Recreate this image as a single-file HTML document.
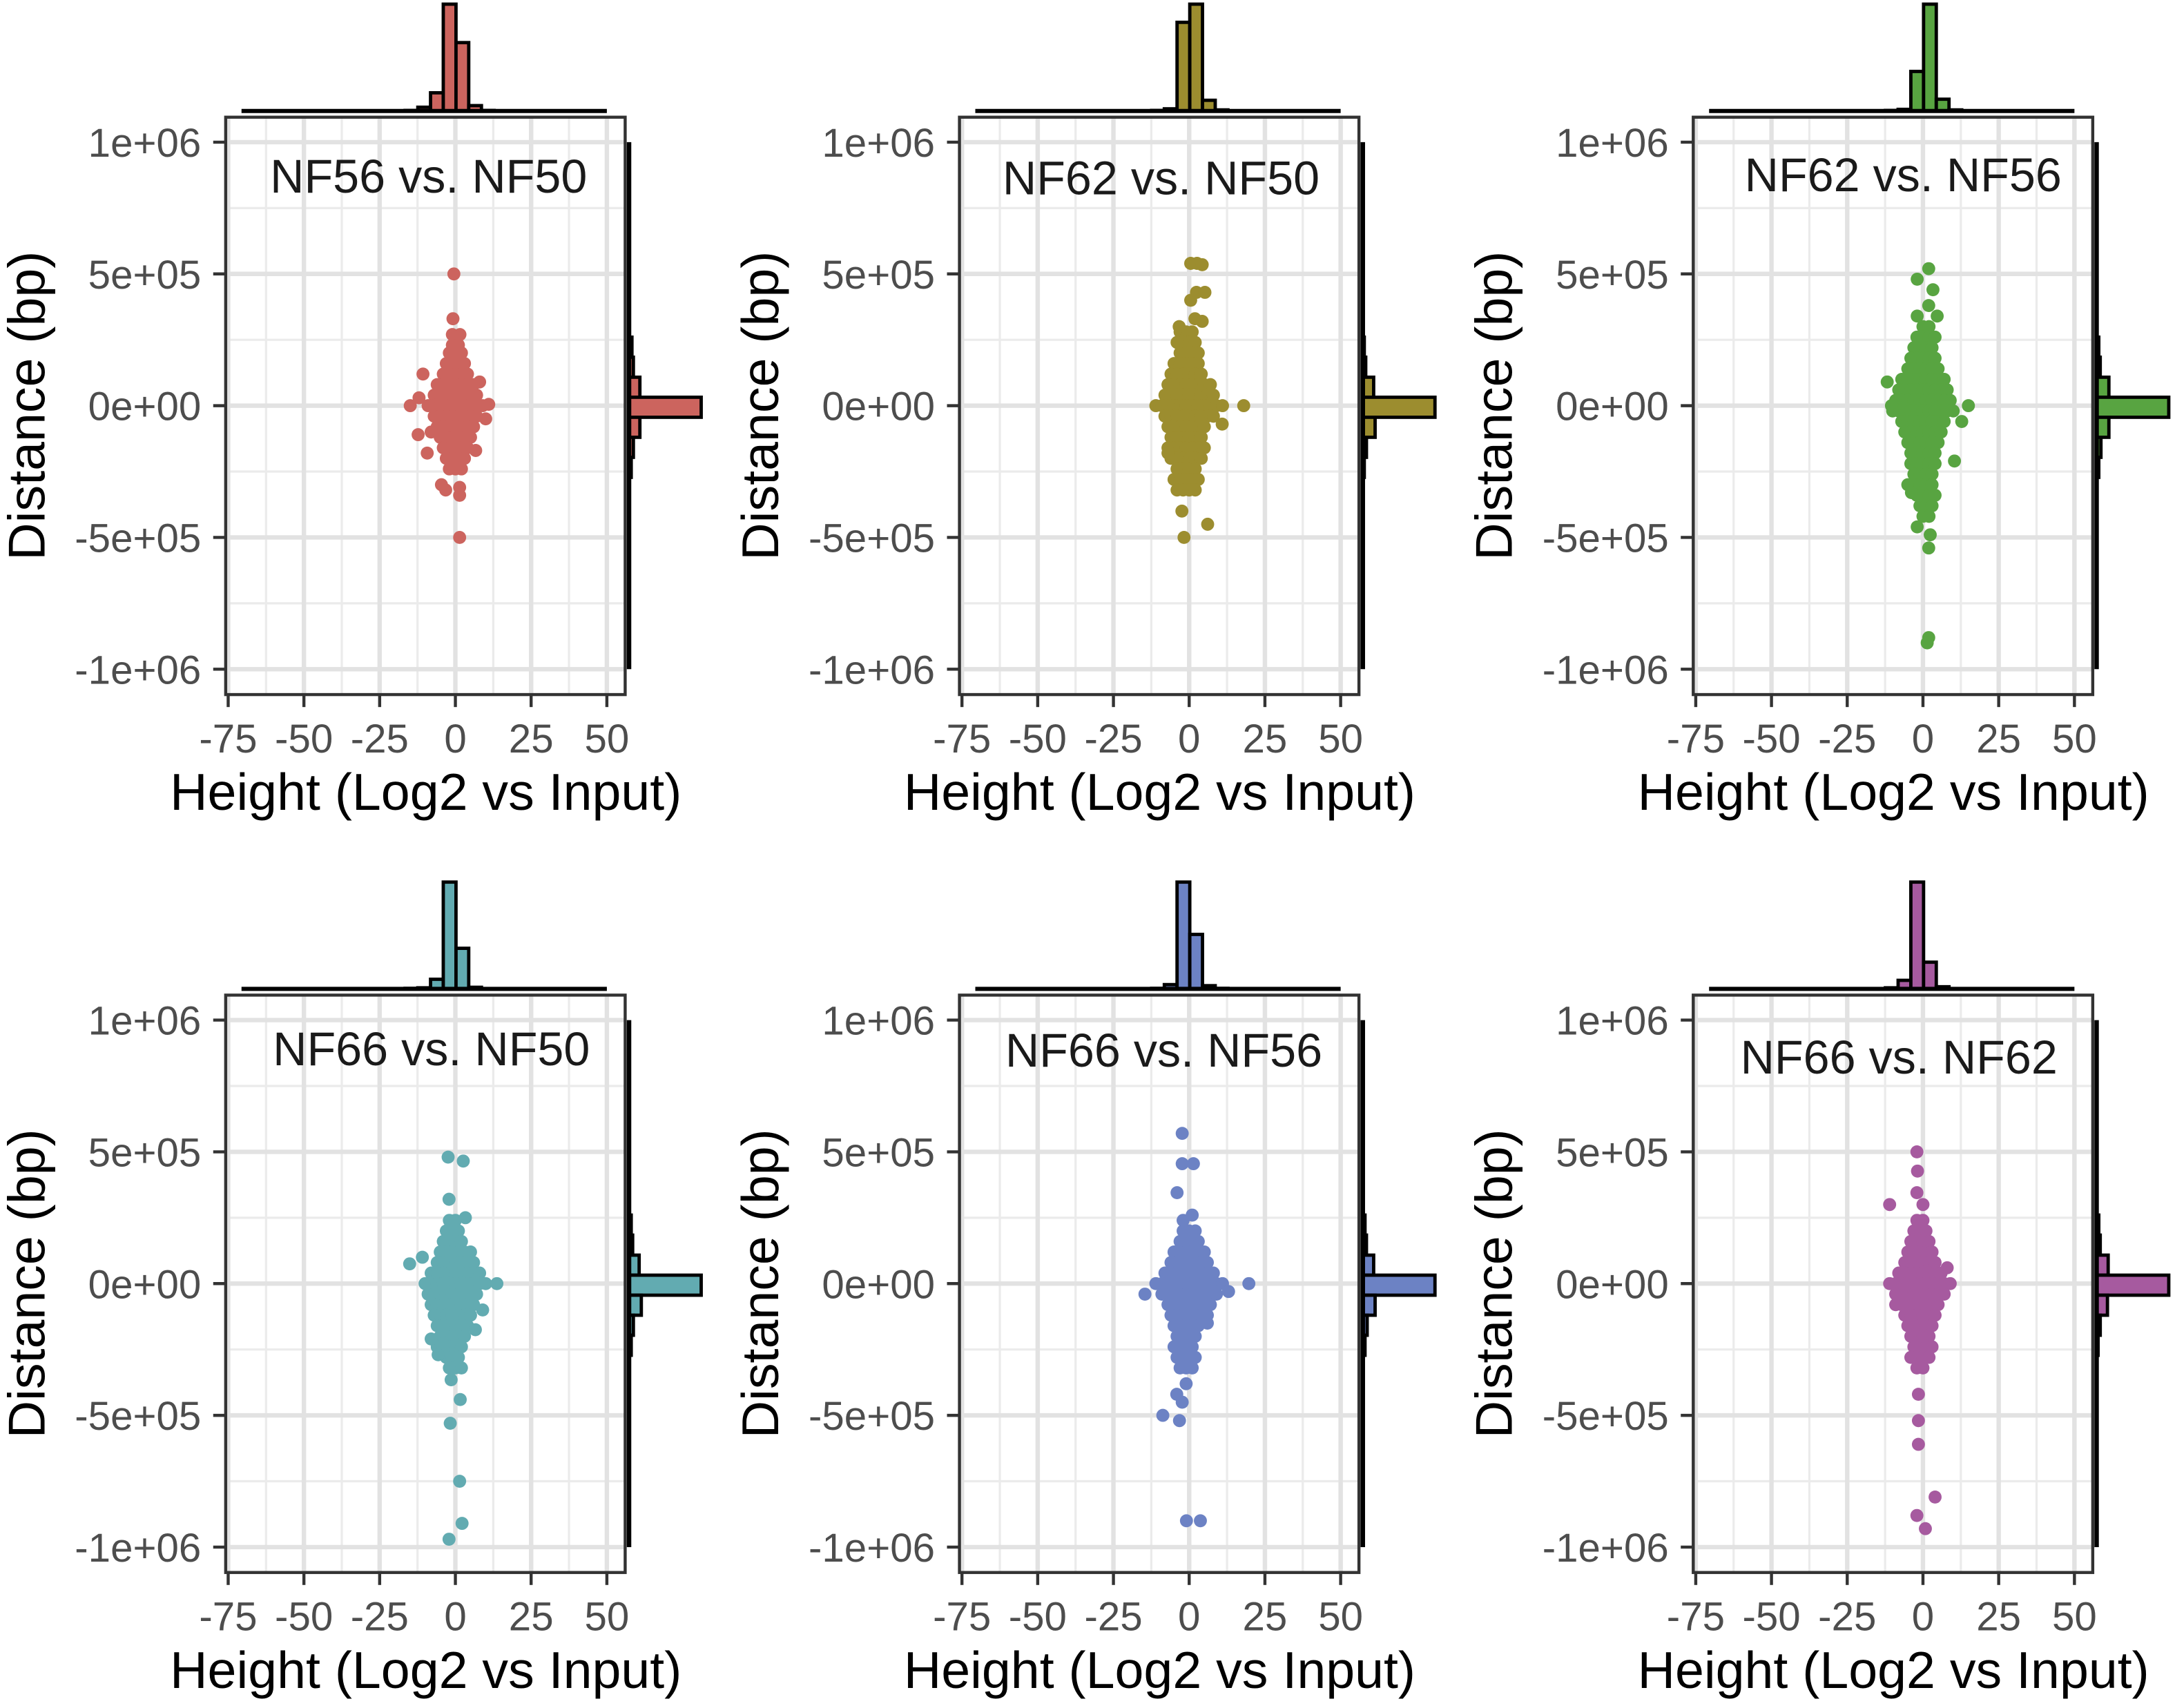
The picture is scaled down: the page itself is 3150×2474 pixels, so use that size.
<!DOCTYPE html>
<html><head><meta charset="utf-8"><title>Peak distance vs height</title>
<style>
html,body{margin:0;padding:0;background:#fff;}
svg{display:block;font-family:"Liberation Sans",Arial,sans-serif;}
</style></head>
<body>
<svg id="chart" xmlns="http://www.w3.org/2000/svg" width="3150" height="2474" viewBox="0 0 1568 1231.5" preserveAspectRatio="none">
<rect x="0" y="0" width="1568" height="1231.5" fill="#ffffff"/>
</svg>
<script>
// ---- data (x: log2 height, y: distance in units of 1e5 bp) ----
const panelTitles = ["NF56 vs. NF50","NF62 vs. NF50","NF62 vs. NF56","NF66 vs. NF50","NF66 vs. NF56","NF66 vs. NF62"];
const panelColors = ["#cc645e","#9c8d2f","#58a441","#62abb1","#6c82c4","#a65a9f"];
const xTicks = [-75,-50,-25,0,25,50];
const xTickLabels = ["-75","-50","-25","0","25","50"];
const yTicks = [10,5,0,-5,-10];
const yTickLabels = ["1e+06","5e+05","0e+00","-5e+05","-1e+06"];
const topBinEdges = [-16.6,-12.4,-8.2,-4.0,0.2,4.4,8.6,12.8,17.0];
const topCounts1 = [0.5,3.5,17,100,64,5,0.5,0];
const topCounts2 = [0,0.5,2,83,100,10,1,0];
const topCounts3 = [0,0.5,1.5,37,100,11,1,0];
const topCounts4 = [0.5,1,9,100,38,1.5,0,0];
const topCounts5 = [0,0.5,4,100,51,3,0.5,0];
const topCounts6 = [0,1,8,100,25,2,0,0];
const rightBinLevels = [3,2,1,0,-1,-2,-3];
const rightCounts1 = [4,6,15,100,15,6,3];
const rightCounts2 = [2,4,15,100,17,5,2];
const rightCounts3 = [3,5,17,100,17,6,3];
const rightCounts4 = [3,5,14,100,17,6,3];
const rightCounts5 = [3,5,15,100,17,6,3];
const rightCounts6 = [3,5,16,100,15,5,2];

const points1 = [[-2,2],[0,2],[2,2],[-3,1.6],[-1,1.6],[1,1.6],[3,1.6],[-4,1.2],[-2,1.2],[0,1.2],[2,1.2],[4,1.2],
[-6,0.8],[-4,0.8],[-2,0.8],[0,0.8],[2,0.8],[4,0.8],[6,0.8],[-7,0.4],[-5,0.4],[-3,0.4],[-1,0.4],[1,0.4],[3,0.4],[5,0.4],[7,0.4],
[-9,0],[-7,0],[-5,0],[-3,0],[-1,0],[1,0],[3,0],[5,0],[7,0],[9,0],[-7,-0.4],[-5,-0.4],[-3,-0.4],[-1,-0.4],[1,-0.4],[3,-0.4],[5,-0.4],[7,-0.4],
[-6,-0.8],[-4,-0.8],[-2,-0.8],[0,-0.8],[2,-0.8],[4,-0.8],[6,-0.8],[-5,-1.2],[-3,-1.2],[-1,-1.2],[1,-1.2],[3,-1.2],[5,-1.2],
[-4,-1.6],[-2,-1.6],[0,-1.6],[2,-1.6],[4,-1.6],[-3,-2],[-1,-2],[1,-2],[3,-2],[-2,-2.4],[0,-2.4],[2,-2.4],
[-0.5,5.0],[-0.8,3.3],[-1,2.7],[1.5,2.7],[-1,2.3],[1,2.3],[-10.7,1.2],[-14.9,0],[-12.3,-1.1],[-9.3,-1.8],[6.7,-1.7],[11,0.05],
[-4.6,-3.0],[-3.2,-3.2],[1.4,-3.1],[1.4,-3.4],[1.4,-5.0],[-12,0.3],[10,-0.5],[-8,-1.0],[8,0.9]];
const points2 = [[-3,2.8],[-1,2.8],[1,2.8],[-4,2.4],[-2,2.4],[0,2.4],[2,2.4],[-3,2],[-1,2],[1,2],[3,2],
[-5,1.6],[-3,1.6],[-1,1.6],[1,1.6],[3,1.6],[-6,1.2],[-4,1.2],[-2,1.2],[0,1.2],[2,1.2],[4,1.2],
[-7,0.8],[-5,0.8],[-3,0.8],[-1,0.8],[1,0.8],[3,0.8],[5,0.8],[7,0.8],[-8,0.4],[-6,0.4],[-4,0.4],[-2,0.4],[0,0.4],[2,0.4],[4,0.4],[6,0.4],[8,0.4],
[-11,0],[-9,0],[-7,0],[-5,0],[-3,0],[-1,0],[1,0],[3,0],[5,0],[7,0],[9,0],[11,0],
[-8,-0.4],[-6,-0.4],[-4,-0.4],[-2,-0.4],[0,-0.4],[2,-0.4],[4,-0.4],[6,-0.4],[8,-0.4],
[-7,-0.8],[-5,-0.8],[-3,-0.8],[-1,-0.8],[1,-0.8],[3,-0.8],[5,-0.8],[-6,-1.2],[-4,-1.2],[-2,-1.2],[0,-1.2],[2,-1.2],[4,-1.2],
[-7,-1.6],[-5,-1.6],[-3,-1.6],[-1,-1.6],[1,-1.6],[3,-1.6],[5,-1.6],[-6,-2],[-4,-2],[-2,-2],[0,-2],[2,-2],[4,-2],
[-4,-2.4],[-2,-2.4],[0,-2.4],[2,-2.4],[-5,-2.8],[-3,-2.8],[-1,-2.8],[1,-2.8],[3,-2.8],[-4,-3.2],[-2,-3.2],[0,-3.2],[2,-3.2],
[0.5,5.4],[2.6,5.4],[4.3,5.35],[0.5,4.0],[2.4,4.3],[5.2,4.3],[1.9,3.3],[4.3,3.2],[18,0],[10.9,-0.7],[-2.4,-4.0],[6.1,-4.5],[-1.7,-5.0],[-7,-1.8],[-3.3,3.0]];
const points3 = [[0,3],[2,3],[-2,2.6],[0,2.6],[2,2.6],[4,2.6],[-3,2.2],[-1,2.2],[1,2.2],[3,2.2],[-4,1.8],[-2,1.8],[0,1.8],[2,1.8],[4,1.8],
[-5,1.4],[-3,1.4],[-1,1.4],[1,1.4],[3,1.4],[5,1.4],[-7,1],[-5,1],[-3,1],[-1,1],[1,1],[3,1],[5,1],[7,1],
[-8,0.6],[-6,0.6],[-4,0.6],[-2,0.6],[0,0.6],[2,0.6],[4,0.6],[6,0.6],[8,0.6],[-9,0.2],[-7,0.2],[-5,0.2],[-3,0.2],[-1,0.2],[1,0.2],[3,0.2],[5,0.2],[7,0.2],[9,0.2],
[-10,-0.2],[-8,-0.2],[-6,-0.2],[-4,-0.2],[-2,-0.2],[0,-0.2],[2,-0.2],[4,-0.2],[6,-0.2],[8,-0.2],[10,-0.2],
[-7,-0.6],[-5,-0.6],[-3,-0.6],[-1,-0.6],[1,-0.6],[3,-0.6],[5,-0.6],[7,-0.6],[-6,-1],[-4,-1],[-2,-1],[0,-1],[2,-1],[4,-1],[6,-1],
[-5,-1.4],[-3,-1.4],[-1,-1.4],[1,-1.4],[3,-1.4],[5,-1.4],[-4,-1.8],[-2,-1.8],[0,-1.8],[2,-1.8],[4,-1.8],[-4,-2.2],[-2,-2.2],[0,-2.2],[2,-2.2],[4,-2.2],
[-3,-2.6],[-1,-2.6],[1,-2.6],[3,-2.6],[-5,-3],[-3,-3],[-1,-3],[1,-3],[3,-3],[-2,-3.4],[0,-3.4],[2,-3.4],[4,-3.4],[-1,-3.8],[1,-3.8],[3,-3.8],[0,-4.2],[2,-4.2],
[1.9,5.2],[-1.9,4.8],[3.3,4.4],[1.9,3.8],[-1.9,3.4],[4.7,3.4],[-11.8,0.9],[-10.4,0],[15,0],[12.8,-0.6],[10.4,-2.1],[-3.8,-3.3],[-1.9,-4.6],[2.4,-4.9],[1.9,-5.4],[1.9,-8.8],[1.4,-9.0]];
const points4 = [[-2,2.4],[0,2.4],[-3,2],[-1,2],[1,2],[-4,1.6],[-2,1.6],[0,1.6],[2,1.6],[-5,1.2],[-3,1.2],[-1,1.2],[1,1.2],[3,1.2],[5,1.2],
[-6,0.8],[-4,0.8],[-2,0.8],[0,0.8],[2,0.8],[4,0.8],[6,0.8],[-8,0.4],[-6,0.4],[-4,0.4],[-2,0.4],[0,0.4],[2,0.4],[4,0.4],[6,0.4],[8,0.4],
[-10,0],[-8,0],[-6,0],[-4,0],[-2,0],[0,0],[2,0],[4,0],[6,0],[8,0],[10,0],
[-9,-0.4],[-7,-0.4],[-5,-0.4],[-3,-0.4],[-1,-0.4],[1,-0.4],[3,-0.4],[5,-0.4],[7,-0.4],[-8,-0.8],[-6,-0.8],[-4,-0.8],[-2,-0.8],[0,-0.8],[2,-0.8],[4,-0.8],[6,-0.8],
[-7,-1.2],[-5,-1.2],[-3,-1.2],[-1,-1.2],[1,-1.2],[3,-1.2],[5,-1.2],[-6,-1.6],[-4,-1.6],[-2,-1.6],[0,-1.6],[2,-1.6],[4,-1.6],
[-5,-2],[-3,-2],[-1,-2],[1,-2],[3,-2],[-6,-2.4],[-4,-2.4],[-2,-2.4],[0,-2.4],[2,-2.4],[-3,-2.8],[-1,-2.8],[1,-2.8],[-2,-3.2],[0,-3.2],[2,-3.2],
[-2.4,4.8],[2.6,4.65],[-2.1,3.2],[3.3,2.5],[-15.1,0.75],[-10.9,1.0],[13.7,0],[9,-1],[6.6,-1.75],[-8,-2.1],[-5.7,-2.7],[-1.4,-3.65],[1.6,-4.4],[-1.7,-5.3],[1.4,-7.5],[2.2,-9.1],[-2.1,-9.7]];
const points5 = [[-2,2],[0,2],[2,2],[-3,1.6],[-1,1.6],[1,1.6],[3,1.6],[-5,1.2],[-3,1.2],[-1,1.2],[1,1.2],[3,1.2],[5,1.2],
[-6,0.8],[-4,0.8],[-2,0.8],[0,0.8],[2,0.8],[4,0.8],[6,0.8],[-8,0.4],[-6,0.4],[-4,0.4],[-2,0.4],[0,0.4],[2,0.4],[4,0.4],[6,0.4],[8,0.4],
[-11,0],[-9,0],[-7,0],[-5,0],[-3,0],[-1,0],[1,0],[3,0],[5,0],[7,0],[9,0],[11,0],
[-9,-0.4],[-7,-0.4],[-5,-0.4],[-3,-0.4],[-1,-0.4],[1,-0.4],[3,-0.4],[5,-0.4],[7,-0.4],[9,-0.4],
[-7,-0.8],[-5,-0.8],[-3,-0.8],[-1,-0.8],[1,-0.8],[3,-0.8],[5,-0.8],[7,-0.8],[-6,-1.2],[-4,-1.2],[-2,-1.2],[0,-1.2],[2,-1.2],[4,-1.2],[6,-1.2],
[-5,-1.6],[-3,-1.6],[-1,-1.6],[1,-1.6],[3,-1.6],[-4,-2],[-2,-2],[0,-2],[2,-2],[-5,-2.4],[-3,-2.4],[-1,-2.4],[1,-2.4],
[-4,-2.8],[-2,-2.8],[0,-2.8],[2,-2.8],[-3,-3.2],[-1,-3.2],[1,-3.2],
[-2.3,5.7],[-2.3,4.55],[1.4,4.55],[-4,3.45],[-2,2.4],[1,2.6],[19.7,0],[-14.6,-0.4],[-8.7,-5.0],[-3.2,-5.2],[-2.3,-4.5],[-4.1,-4.2],[-0.9,-9.0],[3.7,-9.0],[6,-1.5],[-1,-3.8],[13,-0.3]];
const points6 = [[-2,2.4],[0,2.4],[-3,2],[-1,2],[1,2],[-4,1.6],[-2,1.6],[0,1.6],[2,1.6],[-5,1.2],[-3,1.2],[-1,1.2],[1,1.2],[3,1.2],
[-6,0.8],[-4,0.8],[-2,0.8],[0,0.8],[2,0.8],[4,0.8],[-8,0.4],[-6,0.4],[-4,0.4],[-2,0.4],[0,0.4],[2,0.4],[4,0.4],[6,0.4],
[-11,0],[-9,0],[-7,0],[-5,0],[-3,0],[-1,0],[1,0],[3,0],[5,0],[7,0],[9,0],
[-9,-0.4],[-7,-0.4],[-5,-0.4],[-3,-0.4],[-1,-0.4],[1,-0.4],[3,-0.4],[5,-0.4],[7,-0.4],[-7,-0.8],[-5,-0.8],[-3,-0.8],[-1,-0.8],[1,-0.8],[3,-0.8],[5,-0.8],
[-6,-1.2],[-4,-1.2],[-2,-1.2],[0,-1.2],[2,-1.2],[4,-1.2],[-5,-1.6],[-3,-1.6],[-1,-1.6],[1,-1.6],[3,-1.6],[-4,-2],[-2,-2],[0,-2],[2,-2],
[-3,-2.4],[-1,-2.4],[1,-2.4],[3,-2.4],[-4,-2.8],[-2,-2.8],[0,-2.8],[2,-2.8],[-2,-3.2],[0,-3.2],
[-2,5.0],[-1.8,4.27],[-2,3.45],[-11,3.0],[0,3.0],[-1.5,-4.2],[-1.5,-5.2],[-1.5,-6.1],[4,-8.1],[-2,-8.8],[0.8,-9.3],[8,0.6],[-9,-0.8]];

const allPoints = [points1,points2,points3,points4,points5,points6];
const allTop = [topCounts1,topCounts2,topCounts3,topCounts4,topCounts5,topCounts6];
const allRight = [rightCounts1,rightCounts2,rightCounts3,rightCounts4,rightCounts5,rightCounts6];
const titlePos = [[309,139],[837,140],[1372,138],[311,768],[839,769],[1369,774]];

const NS = "http://www.w3.org/2000/svg";
const svg = document.getElementById("chart");
function mk(tag, attrs, parent){
  const e = document.createElementNS(NS, tag);
  for (const k in attrs) e.setAttribute(k, attrs[k]);
  (parent||svg).appendChild(e);
  return e;
}
const gridMinorX = [-62.5,-37.5,-12.5,12.5,37.5];
const gridMinorY = [7.5,2.5,-2.5,-7.5];

for (let p = 0; p < 6; p++) {
  const c = p % 3, r = Math.floor(p / 3);
  const ox = 529 * c, oy = 633 * r;
  const X = v => ox + 328.3 + v * 2.184;
  const Y = v => oy + 292.5 - v * 19.0;
  const g = mk("g", {});
  
  
  const x0 = ox + 162.7, x1 = ox + 450.7, y0 = oy + 84.5, y1 = oy + 500.8;
  const bg = mk("rect", {x:x0, y:y0, width:x1-x0, height:y1-y0, fill:"#fff"}, g);
  
  
  gridMinorX.forEach(v => mk("line", {x1:X(v), x2:X(v), y1:y0, y2:y1, stroke:"#ebebeb", "stroke-width":1.6}, g));
  gridMinorY.forEach(v => mk("line", {x1:x0, x2:x1, y1:Y(v), y2:Y(v), stroke:"#ebebeb", "stroke-width":1.6}, g));
  xTicks.forEach(v => mk("line", {x1:X(v), x2:X(v), y1:y0, y2:y1, stroke:"#e2e2e2", "stroke-width":3.2}, g));
  yTicks.forEach(v => mk("line", {x1:x0, x2:x1, y1:Y(v), y2:Y(v), stroke:"#e2e2e2", "stroke-width":3.2}, g));
  const pg = mk("g", {fill: panelColors[p]}, g);
  
  
  allPoints[p].forEach(pt => {
    const ci = mk("circle", {cx:X(pt[0]), cy:Y(pt[1]), r:4.7}, pg);
    
    
  });
  const border = mk("rect", {x:x0, y:y0, width:x1-x0, height:y1-y0, fill:"none", stroke:"#333", "stroke-width":2.2}, g);
  
  
  xTicks.forEach((v, i) => {
    mk("line", {x1:X(v), x2:X(v), y1:y1, y2:y1+9, stroke:"#333", "stroke-width":2.2}, g);
    const t = mk("text", {x:X(v), y:oy+542.6, "text-anchor":"middle", "font-size":29, fill:"#4d4d4d"}, g);
    t.textContent = xTickLabels[i];
    
    
  });
  yTicks.forEach((v, i) => {
    mk("line", {x1:x0-9, x2:x0, y1:Y(v), y2:Y(v), stroke:"#333", "stroke-width":2.2}, g);
    const t = mk("text", {x:ox+145, y:Y(v)+10.5, "text-anchor":"end", "font-size":29, fill:"#4d4d4d"}, g);
    t.textContent = yTickLabels[i];
    
    
  });
  const xt = mk("text", {x:ox+307, y:oy+584, "text-anchor":"middle", "font-size":37.5, fill:"#000"}, g);
  xt.textContent = "Height (Log2 vs Input)";
  
  
  const yt = mk("text", {x:0, y:0, "text-anchor":"middle", "font-size":37.5, fill:"#000", transform:"translate(" + (ox+32) + "," + (oy+292.5) + ") rotate(-90)"}, g);
  yt.textContent = "Distance (bp)";
  
  
  const tt = mk("text", {x:titlePos[p][0], y:titlePos[p][1], "text-anchor":"middle", "font-size":34, fill:"#1a1a1a"}, g);
  tt.textContent = panelTitles[p];
  
  
  const th = mk("g", {}, g);
  
  
  const tb = oy + 80;
  const tc = allTop[p];
  const tmax = Math.max(...tc);
  tc.forEach((cnt, i) => {
    if (cnt <= 0) return;
    const h = cnt / tmax * 77;
    const b = mk("rect", {x:X(topBinEdges[i]), y:tb-h, width:X(topBinEdges[i+1])-X(topBinEdges[i]), height:h, fill:panelColors[p], stroke:"#000", "stroke-width":2.4}, th);
    
    
  });
  mk("line", {x1:X(-70.6), x2:X(50), y1:tb, y2:tb, stroke:"#000", "stroke-width":3}, th);
  const rh = mk("g", {}, g);
  
  
  const rb = ox + 453.5;
  const rc = allRight[p];
  const rmax = Math.max(...rc);
  rc.forEach((cnt, i) => {
    if (cnt <= 0) return;
    const k = rightBinLevels[i];
    const top = Y(0.32 + 0.76 * k), bot = Y(-0.44 + 0.76 * k);
    const w = cnt / rmax * 52;
    const b = mk("rect", {x:rb, y:top, width:w, height:bot-top, fill:panelColors[p], stroke:"#000", "stroke-width":2.4}, rh);
    
    
  });
  mk("line", {x1:rb, x2:rb, y1:Y(10), y2:Y(-10), stroke:"#000", "stroke-width":3.2}, rh);
}
</script>
</body></html>
